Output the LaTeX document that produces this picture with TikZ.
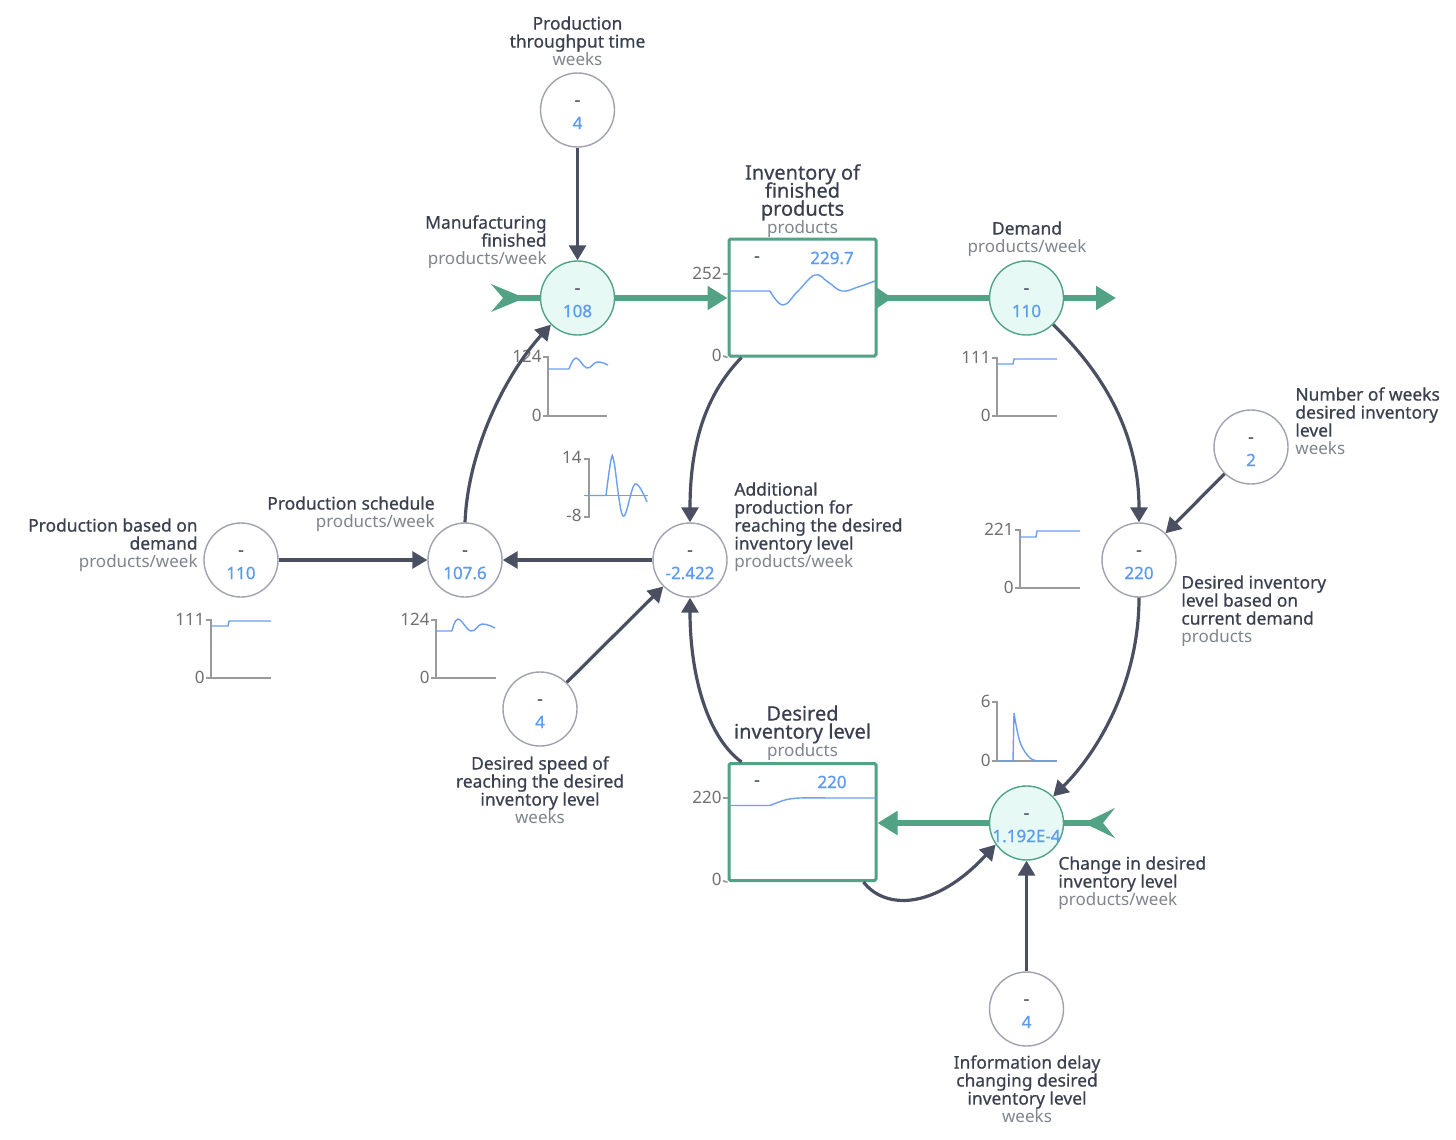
\documentclass[tikz,border=0pt]{standalone}
\usepackage{fontspec}
\setmainfont{Noto Sans}
\newfontfamily\labfont[FakeBold=0.6]{Noto Sans}
\usetikzlibrary{arrows.meta}
\definecolor{conn}{HTML}{4A5062}
\definecolor{flowg}{HTML}{52A285}
\definecolor{flowfill}{HTML}{E6F9F5}
\definecolor{ringg}{HTML}{A0A2B0}
\definecolor{valb}{HTML}{5B9BF0}
\definecolor{curveb}{HTML}{6C9FF0}
\definecolor{labc}{HTML}{3A4050}
\definecolor{unitc}{HTML}{7F858E}
\definecolor{axisc}{HTML}{9A9A9A}
\definecolor{numc}{HTML}{707070}
\tikzset{
  auxring/.style={circle,draw=ringg,line width=.7pt,fill=white,minimum size=37pt,inner sep=0pt},
  flowring/.style={circle,draw=flowg,line width=.7pt,fill=flowfill,minimum size=37pt,inner sep=0pt},
  stockbox/.style={rectangle,draw=flowg,line width=1.5pt,fill=white,rounded corners=.8pt,minimum width=73.5pt,minimum height=58.5pt,inner sep=0pt},
  link/.style={draw=conn,line width=1.6pt,-{Triangle[length=7.5pt,width=8.5pt]}},
  flowline/.style={draw=flowg,line width=3pt},
  flowarrow/.style={flowline,-{Triangle[length=10pt,width=11.5pt]}},
  chev/.style={fill=flowg,draw=none},
  dashtxt/.style={font=\labfont\fontsize{8.5}{9}\selectfont,text=labc,inner sep=0pt},
  valtxt/.style={font=\labfont\fontsize{8.5}{9}\selectfont,text=valb,inner sep=0pt},
  lab/.style={font=\fontsize{8.7}{9}\selectfont,text=labc,inner sep=0pt},
  numtxt/.style={font=\fontsize{8.5}{9}\selectfont,text=numc,inner sep=0pt,anchor=east},
  axisline/.style={draw=axisc,line width=.9pt},
  curveline/.style={draw=curveb,line width=.7pt},
}
\newcommand{\lb}[1]{{\labfont #1}}
\newcommand{\un}[1]{\textcolor{unitc}{\fontsize{8.5}{9}\selectfont #1}}
\newcommand{\titl}[1]{{\labfont\fontsize{10}{9}\selectfont #1}}
\newcommand{\ringnode}[5]{% name, x, y, style, value
  \node[#4] (#1) at (#2,#3) {};
  \node[dashtxt] (#1-d) at ([yshift=3.5pt]#1.center) {-};
  \node[valtxt] (#1-v) at ([yshift=-6.5pt]#1.center) {#5};
}
\newcommand{\minichart}[8]{% name, axis x, top, bottom, right, maxlabel, minlabel, curve
  \draw[axisline] (#2-5,#3) -- (#2,#3) -- (#2,#4) -- (#5,#4) (#2-5,#4) -- (#2,#4);
  \node[numtxt] (#1-max) at (#2-6,#3-1) {#6};
  \node[numtxt] (#1-min) at (#2-6,#4-1) {#7};
  #8
}
\begin{document}
\begin{tikzpicture}[x=.5pt,y=-.5pt]
\useasboundingbox[fill=white] (0,0) rectangle (1456,1140);

% rings and stocks
\ringnode{thru}{577.5}{110}{auxring}{4}
\ringnode{mfg}{577.5}{298}{flowring}{108}
\ringnode{dem}{1026.5}{298}{flowring}{110}
\ringnode{nweeks}{1251}{447}{auxring}{2}
\ringnode{based}{241}{560}{auxring}{110}
\ringnode{sched}{465}{560}{auxring}{107.6}
\ringnode{addl}{690}{560}{auxring}{-2.422}
\ringnode{des}{1139}{560}{auxring}{220}
\ringnode{speed}{540}{709}{auxring}{4}
\ringnode{chg}{1026.5}{823}{flowring}{1.192E-4}
\ringnode{info}{1026.5}{1009}{auxring}{4}

\node[stockbox] (inv) at (802.5,297.5) {};
\node[stockbox] (dil) at (802.5,822) {};
\node[dashtxt] (inv-d) at (757,259) {-};
\node[valtxt] (inv-v) at (832,258) {229.7};
\node[dashtxt] (dil-d) at (757,783) {-};
\node[valtxt] (dil-v) at (832,782) {220};

% box charts
\draw[axisline] (723,274) -- (inv.west |- 0,274);
\draw[axisline] (723,356) -- (inv.south west);
\draw[axisline] (723,798) -- (dil.west |- 0,798);
\draw[axisline] (723,881) -- (dil.south west);
\node[numtxt] (inv-max) at (722,273) {252};
\node[numtxt] (inv-min) at (722,355) {0};
\node[numtxt] (dil-max) at (722,797) {220};
\node[numtxt] (dil-min) at (722,879) {0};
\draw[curveline] (729,291) -- (770,291) plot[smooth,tension=.7] coordinates {(770,291) (783,305) (798,291) (815,275) (828,282) (842,291) (858,287) (875,281)};
\draw[curveline] (729,805.5) -- (770,805.5) plot[smooth,tension=.6] coordinates {(770,805.5) (785,800) (800,798) (830,798)} -- (876,798);

% small charts
\minichart{cm}{548}{357}{416}{607}{124}{0}{\draw[curveline] (548,369) -- (569,369) plot[smooth,tension=.7] coordinates {(569,369) (576,358) (587,368) (597,362) (608,365)};}
\minichart{cd}{997}{358}{416}{1057}{111}{0}{\draw[curveline] (997,364) -- (1013,364) -- (1014,359) -- (1057,359);}
\minichart{cde}{1020}{530}{588}{1080}{221}{0}{\draw[curveline] (1020,537) -- (1036,537) -- (1037,531) -- (1080,531);}
\minichart{cb}{211}{620}{678}{271}{111}{0}{\draw[curveline] (211,626) -- (228,626) -- (229,621) -- (271,621);}
\minichart{cs}{436}{620}{678}{496}{124}{0}{\draw[curveline] (436,631) -- (452,631) plot[smooth,tension=.7] coordinates {(452,631) (458,619) (471,631) (482,624) (495,628)};}
\minichart{cc}{997}{702}{761}{1057}{6}{0}{\draw[curveline] (997,761) -- (1013,761) -- (1014,713) plot[smooth,tension=.6] coordinates {(1014,713) (1020,742) (1030,758) (1040,761)} -- (1057,761);}
% additional-production chart
\draw[axisline] (584,459) -- (589,459) -- (589,517) -- (584,517);
\draw[axisline] (584,495.5) -- (648,495.5);
\node[numtxt] (ca-max) at (582,457) {14};
\node[numtxt] (ca-min) at (582,515) {-8};
\draw[curveline] (585,495.5) -- (606,495.5) plot[smooth,tension=.6] coordinates {(606,495.5) (611,460) (614,462) (623,516) (635,484) (647,502)};

% connectors
\draw[link] (thru) -- (mfg);
\draw[link] (based) -- (sched);
\draw[link] (addl) -- (sched);
\draw[link] (speed) -- (addl);
\draw[link] (nweeks) -- (des);
\draw[link] (info) -- (chg);
\draw[link] (sched.90) .. controls (468,450) and (505,375) .. (mfg.225);
\draw[link] (dem.-45) .. controls (1100,370) and (1139,430) .. (des.90);
\draw[link] ([xshift=7pt]inv.south west) .. controls (705,395) and (690,445) .. (addl.90);
\draw[link] (des.-90) .. controls (1139,680) and (1100,750) .. (chg.45);
\draw[link] ([xshift=7pt]dil.north west) .. controls (705,735) and (690,670) .. (addl.-90);
\draw[link] ([xshift=-7pt]dil.south east) .. controls (885,910) and (935,910) .. (chg.215);

% flows
\coordinate (srcL) at (510,298);
\coordinate (srcR) at (1098,823);
\coordinate (sinkD) at (1116,298);
\draw[flowline] (srcL) -- (mfg.west);
\fill[chev] (491,284) -- (520,296) -- (520,300) -- (491,312) -- (503,298) -- cycle;
\draw[flowarrow] (mfg.east) -- (inv.west |- mfg.east);
\draw[flowline] (inv.east |- dem.west) -- (dem.west);
\fill[chev] (876,287) -- (892,298) -- (876,309) -- cycle;
\draw[flowarrow] (dem.east) -- (sinkD);
\draw[flowarrow] (chg.west) -- (dil.east |- chg.west);
\draw[flowline] (srcR) -- (chg.east);
\fill[chev] (1115,808) -- (1088,821) -- (1088,825) -- (1115,838) -- (1103,823) -- cycle;

% labels
\node[lab,align=center] (t-thru) at (577.5,41) {\lb{Production}\\\lb{throughput time}\\\un{weeks}};
\node[lab,align=right,anchor=east] (t-mfg) at (547,242) {\lb{Manufacturing}\\\lb{finished}\\\un{products/week}};
\node[lab,align=center] (t-inv) at (802.5,201) {\titl{Inventory of}\\[-2pt]\titl{finished}\\\titl{products}\\\un{products}};
\node[lab,align=center] (t-dem) at (1027,239) {\lb{Demand}\\\un{products/week}};
\node[lab,align=left,anchor=west] (t-nw) at (1295,421) {\lb{Number of weeks}\\\lb{desired inventory}\\\lb{level}\\\un{weeks}};
\node[lab,align=left,anchor=west] (t-addl) at (734,527) {\lb{Additional}\\\lb{production for}\\\lb{reaching the desired}\\\lb{inventory level}\\\un{products/week}};
\node[lab,align=right,anchor=east] (t-sched) at (435,514) {\lb{Production schedule}\\\un{products/week}};
\node[lab,align=right,anchor=east] (t-based) at (198,545) {\lb{Production based on}\\\lb{demand}\\\un{products/week}};
\node[lab,align=left,anchor=west] (t-des) at (1181,611) {\lb{Desired inventory}\\\lb{level based on}\\\lb{current demand}\\\un{products}};
\node[lab,align=center] (t-speed) at (540,790) {\lb{Desired speed of}\\\lb{reaching the desired}\\\lb{inventory level}\\\un{weeks}};
\node[lab,align=center] (t-dil) at (802.5,733) {\titl{Desired}\\\titl{inventory level}\\\un{products}};
\node[lab,align=left,anchor=west] (t-chg) at (1058,883) {\lb{Change in desired}\\\lb{inventory level}\\\un{products/week}};
\node[lab,align=center] (t-info) at (1027,1089) {\lb{Information delay}\\\lb{changing desired}\\\lb{inventory level}\\\un{weeks}};
\end{tikzpicture}
\end{document}
